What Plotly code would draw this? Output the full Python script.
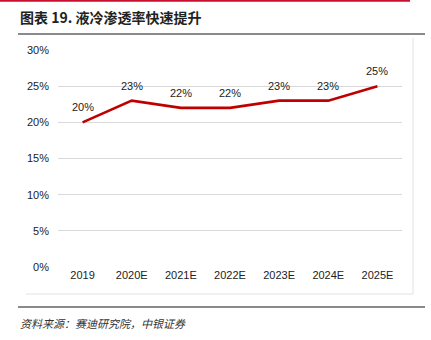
import plotly.graph_objects as go

categories = ["2019", "2020E", "2021E", "2022E", "2023E", "2024E", "2025E"]
values = [20, 23, 22, 22, 23, 23, 25]
labels = ["20%", "23%", "22%", "22%", "23%", "23%", "25%"]
y_ticks = [0, 5, 10, 15, 20, 25, 30]
y_tick_text = ["0%", "5%", "10%", "15%", "20%", "25%", "30%"]

W, H = 431, 340
L, R, T, B = 58, 402, 50, 267
FONT = "Liberation Sans Narrow, Liberation Sans, Arial"

def px(x):
    return (x - L) / (R - L)

def py(y):
    return (B - y) / (B - T)

fig = go.Figure()
fig.add_trace(go.Scatter(
    x=categories, y=values, mode="lines",
    line=dict(color="#c00000", width=2.6),
    cliponaxis=False, showlegend=False, hoverinfo="skip",
))

shapes = [
    dict(type="line", xref="paper", yref="paper", x0=px(0), x1=px(410), y0=py(0.8), y1=py(0.8),
         line=dict(color="#c8102e", width=2)),
    dict(type="line", xref="paper", yref="paper", x0=px(18), x1=px(425), y0=py(34), y1=py(34),
         line=dict(color="#8a8a8a", width=2)),
    dict(type="line", xref="paper", yref="paper", x0=px(413), x1=px(413), y0=py(38), y1=py(294),
         line=dict(color="#e2e2e2", width=1)),
    dict(type="line", xref="paper", yref="paper", x0=px(26), x1=px(413), y0=py(294), y1=py(294),
         line=dict(color="#e2e2e2", width=1)),
    dict(type="line", xref="paper", yref="paper", x0=px(18), x1=px(425), y0=py(307), y1=py(307),
         line=dict(color="#8a8a8a", width=2)),
]

annotations = [
    dict(text="<b>图表 19. 液冷渗透率快速提升</b>", xref="paper", yref="paper",
         x=px(18), y=py(17), xanchor="left", yanchor="middle", showarrow=False,
         font=dict(family="Noto Sans CJK SC", size=14, color="#222")),
    dict(text="<i>资料来源：赛迪研究院，中银证券</i>", xref="paper", yref="paper",
         x=px(18), y=py(323), xanchor="left", yanchor="middle", showarrow=False,
         font=dict(family="Noto Sans CJK SC", size=11, color="#333")),
]
for i, (v, t) in enumerate(zip(values, labels)):
    annotations.append(dict(text=t, x=i, y=v, xref="x", yref="y", showarrow=False,
                            xanchor="center", yanchor="middle", yshift=15,
                            font=dict(family=FONT, size=11, color="#222")))

fig.update_layout(
    width=W, height=H,
    margin=dict(l=L, r=W - R, t=T, b=H - B),
    paper_bgcolor="white", plot_bgcolor="white",
    shapes=shapes, annotations=annotations,
    xaxis=dict(type="category", range=[-0.5, 6.5], showgrid=False, showline=False,
               ticks="", tickfont=dict(family=FONT, size=11, color="#222"),
               fixedrange=True),
    yaxis=dict(range=[0, 30], tickvals=y_ticks, ticktext=y_tick_text,
               showgrid=True, gridcolor="#d9d9d9", gridwidth=1, zeroline=False,
               showline=False, ticks="", ticklabelstandoff=8,
               tickfont=dict(family=FONT, size=11, color="#222"),
               fixedrange=True),
)

fig.write_html("out.html")
